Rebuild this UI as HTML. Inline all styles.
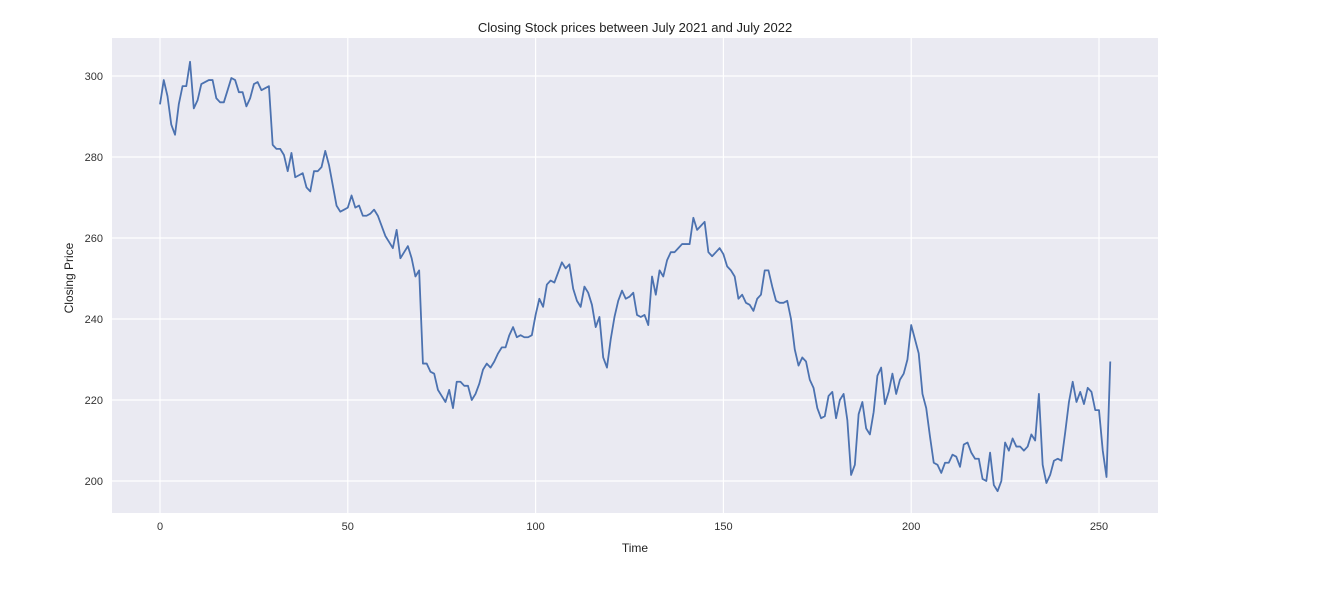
<!DOCTYPE html>
<html><head><meta charset="utf-8"><style>
body{margin:0;background:#fff;width:1342px;height:585px;overflow:hidden;font-family:"Liberation Sans",sans-serif}
</style></head><body>
<svg id="chart" width="1342" height="585" xmlns="http://www.w3.org/2000/svg"></svg>
<script>
const prices=[293,299,295,288,285.5,293,297.5,297.5,303.5,292,294,298,298.5,299,299,294.5,293.5,293.5,296.5,299.5,299,296,296,292.5,294.5,298,298.5,296.5,297,297.5,
283,282,282,280.5,276.5,281,275,275.5,276,272.5,271.5,276.5,276.5,277.5,281.5,278,273,268,266.5,267,267.5,270.5,267.5,268,265.5,265.5,266,267,265.5,263,
260.5,259,257.5,262,255,256.5,258,255,250.5,252,229,229,227,226.5,222.5,221,219.5,222.5,218,224.5,224.5,223.5,223.5,220,221.5,224,227.5,229,228,229.5,
231.5,233,233,236,238,235.5,236,235.5,235.5,236,241,245,243,248.5,249.5,249,251.5,254,252.5,253.5,247.5,244.5,243,248,246.5,243.5,238,240.5,230.5,228,
235,240.5,244.5,247,245,245.5,246.5,241,240.5,241,238.5,250.5,246,252,250.5,254.5,256.5,256.5,257.5,258.5,258.5,258.5,265,262,263,264,256.5,255.5,256.5,257.5,
256,253,252,250.5,245,246,244,243.5,242,245,246,252,252,248,244.5,244,244,244.5,240,232.5,228.5,230.5,229.5,225,223,218,215.5,216,221,222,
215.5,220,221.5,215,201.5,204,216.5,219.5,213,211.5,217,226,228,219,222,226.5,221.5,225,226.5,230,238.5,235,231.5,221.5,218,211,204.5,204,202,204.5,
204.5,206.5,206,203.5,209,209.5,207,205.5,205.5,200.5,200,207,199,197.5,200,209.5,207.5,210.5,208.5,208.5,207.5,208.5,211.5,210,221.5,204,199.5,201.5,205,205.5,
205,212,219.5,224.5,219.5,222,219,223,222,217.5,217.5,207.5,201,229.5];
const xTicks=[0,50,100,150,200,250];
const yTicks=[200,220,240,260,280,300];
const title="Closing Stock prices between July 2021 and July 2022";

const NS="http://www.w3.org/2000/svg";
const svg=document.getElementById('chart');
const L=112,R=1158,T=38,B=513;
const xs=v=>160+(v-0)*(1099-160)/250;
const ys=v=>481-(v-200)*(481-76)/100;
function mk(tag,attrs,parent){const e=document.createElementNS(NS,tag);for(const k in attrs)e.setAttribute(k,attrs[k]);(parent||svg).appendChild(e);return e;}
const bg=mk('rect',{x:L,y:T,width:R-L,height:B-T,fill:'#eaeaf2'});


xTicks.forEach(t=>{
  const g=mk('line',{x1:xs(t),x2:xs(t),y1:T,y2:B,stroke:'#fff','stroke-width':1.2});
  
  
  const tx=mk('text',{x:xs(t),y:530,'text-anchor':'middle','font-size':11,fill:'#333'});
  tx.textContent=t;
  
  
});
yTicks.forEach(t=>{
  const g=mk('line',{x1:L,x2:R,y1:ys(t),y2:ys(t),stroke:'#fff','stroke-width':1.2});
  
  
  const tx=mk('text',{x:103,y:ys(t)+4,'text-anchor':'end','font-size':11,fill:'#333'});
  tx.textContent=t;
  
  
});
const pts=prices.map((v,i)=>xs(i).toFixed(2)+','+ys(v).toFixed(2)).join(' ');
const line=mk('polyline',{points:pts,fill:'none',stroke:'#4c72b0','stroke-width':1.8,'stroke-linejoin':'round'});


const tt=mk('text',{x:635,y:32,'text-anchor':'middle','font-size':13,fill:'#222'});
tt.textContent=title;


const xl=mk('text',{x:635,y:552,'text-anchor':'middle','font-size':12,fill:'#222'});
xl.textContent='Time';


const yl=mk('text',{x:73,y:278,'text-anchor':'middle','font-size':12,fill:'#222',transform:'rotate(-90 73 278)'});
yl.textContent='Closing Price';


</script>
</body></html>
